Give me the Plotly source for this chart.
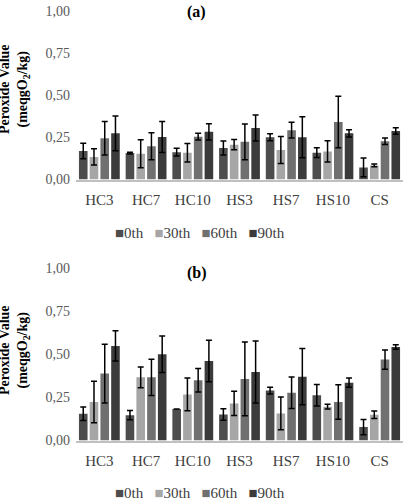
import plotly.graph_objects as go

categories = ["HC3", "HC7", "HC10", "HS3", "HS7", "HS10", "CS"]
series_names = ["0th", "30th", "60th", "90th"]
colors = ["#4d4d4d", "#a6a6a6", "#707070", "#3b3b3b"]

# Panel (a)
a_0 = [0.169, 0.157, 0.162, 0.187, 0.251, 0.159, 0.072]
a_0_err = [0.046, 0.005, 0.023, 0.042, 0.021, 0.029, 0.056]
a_30 = [0.134, 0.153, 0.159, 0.207, 0.175, 0.167, 0.084]
a_30_err = [0.048, 0.083, 0.055, 0.031, 0.080, 0.063, 0.008]
a_60 = [0.245, 0.198, 0.254, 0.224, 0.293, 0.341, 0.227]
a_60_err = [0.099, 0.080, 0.020, 0.106, 0.047, 0.153, 0.019]
a_90 = [0.274, 0.252, 0.283, 0.306, 0.251, 0.274, 0.288]
a_90_err = [0.103, 0.092, 0.048, 0.077, 0.122, 0.021, 0.019]

# Panel (b)
b_0 = [0.155, 0.147, 0.182, 0.151, 0.289, 0.262, 0.078]
b_0_err = [0.039, 0.027, 0.0, 0.033, 0.019, 0.062, 0.044]
b_30 = [0.223, 0.366, 0.267, 0.215, 0.157, 0.196, 0.149]
b_30_err = [0.120, 0.060, 0.095, 0.070, 0.095, 0.014, 0.022]
b_60 = [0.388, 0.366, 0.349, 0.357, 0.277, 0.223, 0.469]
b_60_err = [0.170, 0.105, 0.068, 0.213, 0.091, 0.100, 0.056]
b_90 = [0.548, 0.500, 0.461, 0.397, 0.370, 0.335, 0.541]
b_90_err = [0.088, 0.106, 0.120, 0.180, 0.163, 0.027, 0.013]

y_tickvals = [0, 0.25, 0.5, 0.75, 1.0]
y_ticktext = ["0,00", "0,25", "0,50", "0,75", "1,00"]

FONT = "Liberation Serif"

fig = go.Figure()

panel_a = [(a_0, a_0_err), (a_30, a_30_err), (a_60, a_60_err), (a_90, a_90_err)]
panel_b = [(b_0, b_0_err), (b_30, b_30_err), (b_60, b_60_err), (b_90, b_90_err)]

for xa, ya, panel in [("x", "y", panel_a), ("x2", "y2", panel_b)]:
    for i, (vals, errs) in enumerate(panel):
        fig.add_trace(go.Bar(
            x=categories, y=vals, name=series_names[i],
            marker=dict(color=colors[i], line=dict(width=0)),
            error_y=dict(type="data", array=errs, color="black", thickness=1.5, width=3),
            xaxis=xa, yaxis=ya, showlegend=False,
        ))

axis_x = dict(
    showgrid=False, zeroline=False, showline=True, linecolor="#c0c0c0", linewidth=2,
    ticks="", tickfont=dict(family=FONT, size=15, color="#404040"),
    ticklabelstandoff=5,
)
axis_y = dict(
    range=[0, 1], showgrid=False, zeroline=False, showline=False,
    tickvals=y_tickvals, ticktext=y_ticktext, ticks="",
    tickfont=dict(family=FONT, size=14, color="#595959"),
    ticklabelstandoff=5, ticklabeloverflow="allow",
)

fig.update_layout(
    width=403, height=516, autosize=False,
    margin=dict(l=76, r=0, t=0, b=0),
    paper_bgcolor="white", plot_bgcolor="white",
    barmode="group", bargap=0.08, bargroupgap=0.2,
    xaxis=dict(axis_x, domain=[0, 1], anchor="y"),
    yaxis=dict(axis_y, domain=[0.6556, 0.9922], anchor="x"),
    xaxis2=dict(axis_x, domain=[0, 1], anchor="y2"),
    yaxis2=dict(axis_y, domain=[0.1347, 0.4793], anchor="x2"),
    showlegend=False,
)

legend_text = "&nbsp;&nbsp;&nbsp;".join(
    f"<span style='color:{c}'>■</span>{n}" for c, n in zip(colors, series_names)
)

ylab = "<b>Peroxide Value</b><br><b>(meqgO<sub>2</sub>/kg)</b>"
for yc, lab, ty, ly in [(0.836, "(a)", 0.990, 0.5494), (0.315, "(b)", 0.4694, 0.030)]:
    fig.add_annotation(text=ylab, xref="paper", yref="paper", x=-0.19, y=yc,
                       textangle=-90, showarrow=False, xanchor="center", yanchor="middle",
                       font=dict(family=FONT, size=14, color="black"))
    fig.add_annotation(text="<b>" + lab + "</b>", xref="paper", yref="paper", x=0.37, y=ty,
                       showarrow=False, xanchor="center", yanchor="middle",
                       font=dict(family=FONT, size=16, color="black"))
    fig.add_annotation(text=legend_text, xref="paper", yref="paper", x=0.38, y=ly,
                       showarrow=False, xanchor="center", yanchor="middle",
                       font=dict(family=FONT, size=15, color="#404040"))

fig.write_html("out.html", config={"displayModeBar": False},
               post_script="document.documentElement.style.margin='0';document.body.style.margin='0';document.body.style.padding='0';")
